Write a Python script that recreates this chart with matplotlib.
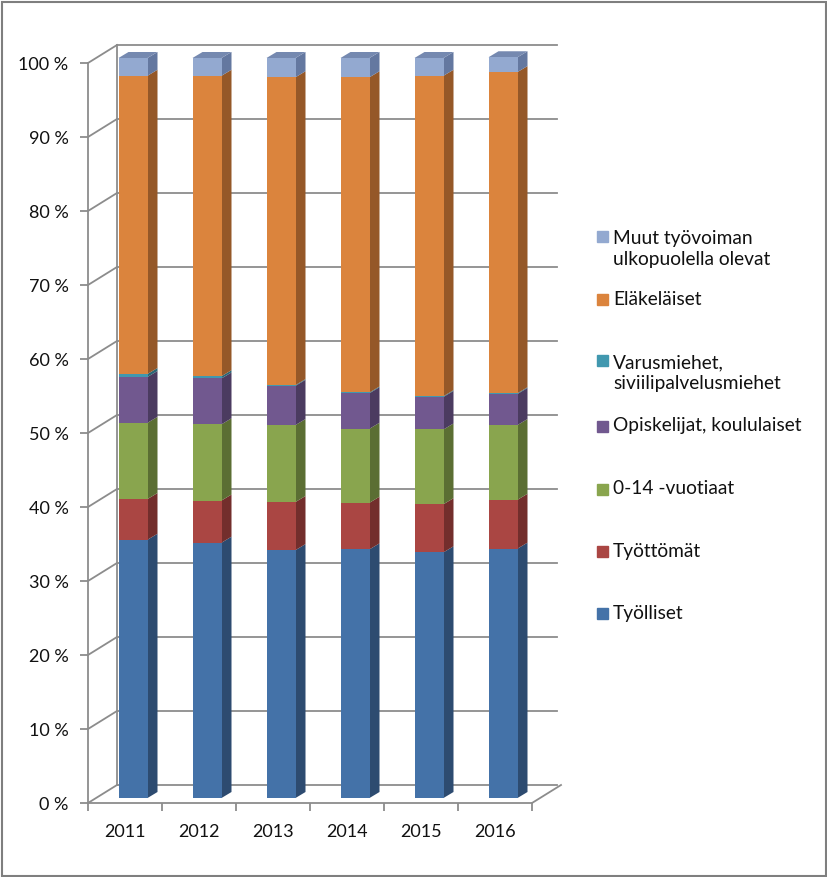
import matplotlib
matplotlib.use("Agg")
import matplotlib.pyplot as plt
from matplotlib.patches import Polygon, Rectangle
import numpy as np

plt.rcParams['font.family'] = ['Lato', 'DejaVu Sans']

years = ['2011', '2012', '2013', '2014', '2015', '2016']
series_names = ['Työlliset', 'Työttömät', '0-14 -vuotiaat', 'Opiskelijat, koululaiset',
                'Varusmiehet,\nsiviilipalvelusmiehet', 'Eläkeläiset',
                'Muut työvoiman\nulkopuolella olevat']
tyolliset = [34.9, 34.5, 33.5, 33.6, 33.2, 33.7]
tyottomat = [5.5, 5.7, 6.5, 6.3, 6.5, 6.6]
lapset = [10.3, 10.3, 10.4, 10.0, 10.1, 10.1]
opiskelijat = [6.2, 6.2, 5.3, 4.8, 4.4, 4.2]
varusmiehet = [0.4, 0.3, 0.1, 0.1, 0.1, 0.1]
elakelaiset = [40.3, 40.6, 41.6, 42.6, 43.3, 43.4]
muut = [2.4, 2.4, 2.6, 2.6, 2.4, 2.0]
yticks = [0, 10, 20, 30, 40, 50, 60, 70, 80, 90, 100]
ytick_labels = [f'{v} %' for v in yticks]

series = [tyolliset, tyottomat, lapset, opiskelijat, varusmiehet, elakelaiset, muut]
front_cols = ['#4472A8', '#AA4643', '#89A54E', '#71588F', '#4198AF', '#DB843D', '#93A9D0']
side_cols = ['#2D4B70', '#732E2C', '#5B6E33', '#4B3B60', '#2B6675', '#955828', '#6478A0']
top_col = '#7589B0'
txt_c = '#111111'

W, H = 827, 877
fig = plt.figure(figsize=(W / 100, H / 100), dpi=100)

# pixel mapping: x_px = 88 + 74*x ; y_px = 803 - 7.4*y
x0, xs = 88, 74.0
y0, ys = 803, 7.4
xl = (-0.12, 6.5)
yl = (-1.6, 104.0)
left = (x0 + xs * xl[0]) / W
right = (x0 + xs * xl[1]) / W
bottom = (H - (y0 - ys * yl[0])) / H
top = (H - (y0 - ys * yl[1])) / H
ax = fig.add_axes([left, bottom, right - left, top - bottom])
ax.set_xlim(*xl)
ax.set_ylim(*yl)
ax.patch.set_alpha(0)

grid_c = '#8C8C8C'
wdx, wdy = 29 / xs, 18 / ys   # wall depth
bdx, bdy = 8 / xs, 5 / ys     # bar front offset
sdx, sdy = 10 / xs, 6 / ys    # bar depth
bw = 29 / xs

# back wall gridlines + left wall diagonals
for v in yticks:
    ax.plot([wdx, 6 + wdx - 0.06], [v + wdy, v + wdy], color=grid_c, lw=1.3, zorder=1)
    ax.plot([0, wdx], [v, v + wdy], color=grid_c, lw=1.3, zorder=1)
ax.plot([wdx, wdx], [wdy, 100 + wdy], color=grid_c, lw=1.3, zorder=1)
# floor
ax.plot([6, 6 + wdx], [0, wdy], color=grid_c, lw=1.3, zorder=1)

xc = np.arange(len(years)) + 0.5 + bdx
cum = np.zeros(len(years))
for k, vals in enumerate(series):
    vals = np.array(vals)
    ax.bar(xc, vals, bottom=cum + bdy, width=bw, color=front_cols[k], zorder=5, linewidth=0)
    for i in range(len(years)):
        r = xc[i] + bw / 2
        b = cum[i] + bdy
        t = b + vals[i]
        ax.add_patch(Polygon([(r, b), (r, t), (r + sdx, t + sdy), (r + sdx, b + sdy)],
                             closed=True, color=side_cols[k], lw=0, zorder=4))
        if k == len(series) - 1:
            l = xc[i] - bw / 2
            ax.add_patch(Polygon([(l, t), (r, t), (r + sdx, t + sdy), (l + sdx, t + sdy)],
                                 closed=True, color=top_col, lw=0, zorder=4))
    cum += vals

# axes spines
for s in ['top', 'right']:
    ax.spines[s].set_visible(False)
ax.spines['left'].set_position(('data', 0))
ax.spines['left'].set_bounds(0, 100)
ax.spines['bottom'].set_position(('data', 0))
ax.spines['bottom'].set_bounds(0, 6)
for s in ['left', 'bottom']:
    ax.spines[s].set_color(grid_c)
    ax.spines[s].set_linewidth(1.3)
ax.set_yticks(yticks)
ax.set_yticklabels(ytick_labels, fontsize=13, color=txt_c)
ax.tick_params(axis='y', direction='out', length=6, width=1.3, color=grid_c, pad=8)
ax.set_xticks(np.arange(0, 7))
ax.set_xticklabels([])
ax.tick_params(axis='x', which='major', direction='out', length=6, width=1.3, color=grid_c)
ax.set_xticks(np.arange(len(years)) + 0.5, minor=True)
ax.set_xticklabels(years, minor=True, fontsize=13, color=txt_c)
ax.tick_params(axis='x', which='minor', length=0, pad=15)

# legend (manual)
leg_y = [613, 551, 489, 426, 373, 299, 249]
for k in range(len(series)):
    yc = leg_y[k]
    nlines = series_names[k].count('\n') + 1
    ymark = yc - (nlines - 1) * 12.5
    fig.patches.append(Rectangle((597 / W, 1 - (ymark + 5.5) / H), 11 / W, 11 / H,
                                 transform=fig.transFigure, color=front_cols[k]))
    fig.text(613 / W, 1 - yc / H, series_names[k], fontsize=13.8, va='center', ha='left',
             color=txt_c, linespacing=1.3)

# outer frame
fig.patches.append(Rectangle((1.5 / W, 1.5 / H), (W - 3) / W, (H - 3) / H, transform=fig.transFigure,
                             fill=False, edgecolor='#7F7F7F', lw=1.5))

fig.savefig('out.png', dpi=100)
